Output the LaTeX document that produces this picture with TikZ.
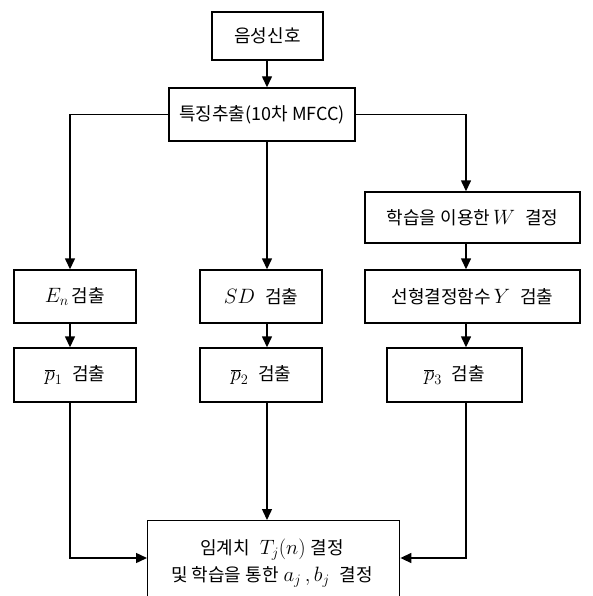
\documentclass[tikz,border=0pt]{standalone}
\usepackage{fontspec}
\setmainfont{Noto Sans CJK KR}
\usetikzlibrary{arrows.meta}
\newcommand\mymath[1]{{\fontsize{22}{22}\selectfont$#1$}}
\begin{document}
\begin{tikzpicture}[x=1pt,y=-1pt,
  box/.style={draw,line width=1.4pt,rectangle,inner sep=0pt,font=\fontsize{18}{21}\selectfont},
  arr/.style={line width=1.4pt,-{Triangle[length=11pt,width=10pt]}},
  ln/.style={line width=1.4pt}]
\useasboundingbox (0,0) rectangle (592,596);
\coordinate (xl) at (70,0);
\coordinate (xm) at (267,0);
\coordinate (xr) at (466,0);
\coordinate (yin) at (0,558);
\node[box,minimum width=111pt,minimum height=48pt] (b1) at (267.5,36) {음성신호};
\node[box,minimum width=186pt,minimum height=53pt] (b2) at (262,114.5) {특징추출(10차 MFCC)};
\node[box,minimum width=122pt,minimum height=53pt] (E) at (75,296.5) {\mymath{E_n}\,검출};
\node[box,minimum width=122pt,minimum height=54pt] (P1) at (75,375) {\mymath{\overline{p}_1}\;\;검출};
\node[box,minimum width=122pt,minimum height=53pt] (SD) at (261,296.5) {\mymath{SD}\;\;검출};
\node[box,minimum width=122pt,minimum height=54pt] (P2) at (261,375) {\mymath{\overline{p}_2}\;\;검출};
\node[box,minimum width=215pt,minimum height=51pt] (W) at (472.5,217.5) {학습을 이용한\,\mymath{W}\;\;결정};
\node[box,minimum width=215pt,minimum height=53pt] (Y) at (472.5,296.5) {선형결정함수\,\mymath{Y}\;\;검출};
\node[box,minimum width=135pt,minimum height=54pt] (P3) at (454.5,375) {\mymath{\overline{p}_3}\;\;검출};
\node[box,minimum width=252pt,minimum height=100pt,anchor=north west] (F) at (147,520) {};
\node[font=\fontsize{18}{27}\selectfont,align=center,inner sep=0pt] (Ft) at (272,563)
  {임계치\;\;\mymath{T_j(n)}\;결정\\ 및 학습을 통한\;\mymath{a_j\,,b_j}\;\;결정};
\draw[arr] (b1.south -| xm) -- (b2.north -| xm);
\draw[arr] (b2.west) -| (E.north -| xl);
\draw[arr] (b2.south -| xm) -- (SD.north -| xm);
\draw[arr] (b2.east) -| (W.north -| xr);
\draw[arr] (E.south -| xl) -- (P1.north -| xl);
\draw[arr] (SD.south -| xm) -- (P2.north -| xm);
\draw[arr] (W.south -| xr) -- (Y.north -| xr);
\draw[arr] (Y.south -| xr) -- (P3.north -| xr);
\draw[arr] (P1.south -| xl) |- (F.west |- yin);
\draw[arr] (P2.south -| xm) -- (F.north -| xm);
\draw[arr] (P3.south -| xr) |- (F.east |- yin);
\end{tikzpicture}
\end{document}
